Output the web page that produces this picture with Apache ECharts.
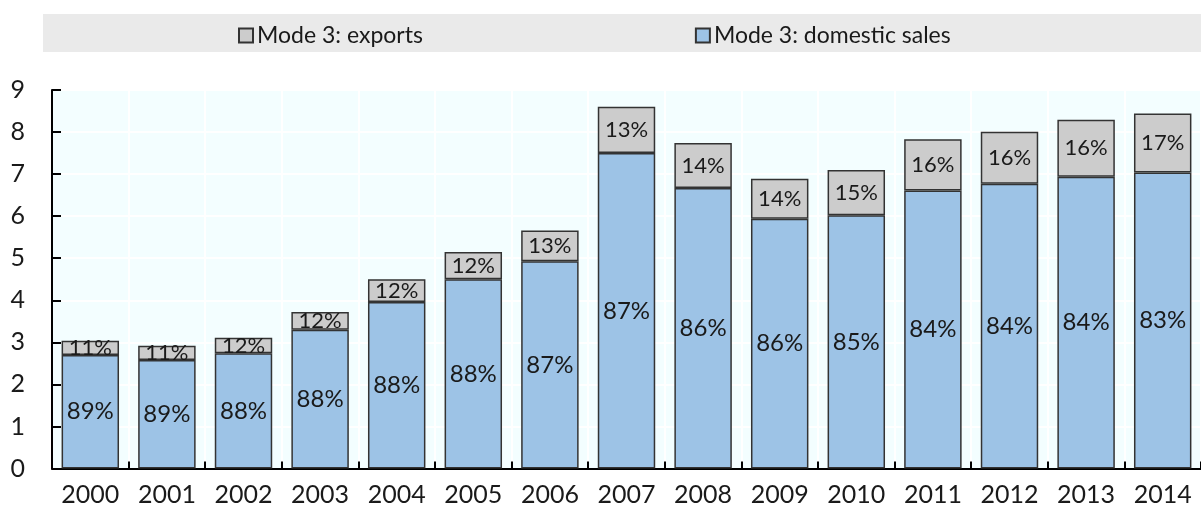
<!DOCTYPE html>
<html>
<head>
<meta charset="utf-8">
<script src="https://cdn.jsdelivr.net/npm/echarts@6/dist/echarts.min.js"></script>
<style>
html,body{margin:0;padding:0;background:#fff;}
#chart{width:1201px;height:509px;}
</style>
</head>
<body>
<div id="chart"></div>
<script>
const categories = ['2000','2001','2002','2003','2004','2005','2006','2007','2008','2009','2010','2011','2012','2013','2014'];
const domesticValues = [2.70, 2.58, 2.74, 3.30, 3.96, 4.50, 4.93, 7.50, 6.67, 5.94, 6.02, 6.61, 6.77, 6.94, 7.04];
const exportValues   = [0.34, 0.34, 0.37, 0.42, 0.54, 0.65, 0.73, 1.10, 1.07, 0.95, 1.08, 1.22, 1.24, 1.35, 1.40];
const domesticShares = ['89%','89%','88%','88%','88%','88%','87%','87%','86%','86%','85%','84%','84%','84%','83%'];
const exportShares   = ['11%','11%','12%','12%','12%','12%','13%','13%','14%','14%','15%','16%','16%','16%','17%'];
const yTicks = [0,1,2,3,4,5,6,7,8,9];

const FONT = 'Lato';
const chart = echarts.init(document.getElementById('chart'));
chart.setOption({
  animation: false,
  textStyle: {fontFamily: FONT},
  graphic: [{
    type: 'rect', left: 43, top: 14, z: -10,
    shape: {width: 1158, height: 38},
    style: {fill: '#EAEAEA'}
  }],
  legend: {
    left: 233, top: 19,
    icon: 'rect',
    itemWidth: 14, itemHeight: 14, itemGap: 272,
    textStyle: {fontFamily: FONT, fontSize: 23, color: '#1a1a1a', padding: [0,0,0,-1]},
    data: ['Mode 3: exports', 'Mode 3: domestic sales']
  },
  grid: {
    left: 52, top: 90, bottom: 40.5, width: 1158,
    show: true, backgroundColor: '#F3FEFF', borderColor: '#A8B0B0', borderWidth: 1,
    containLabel: false
  },
  xAxis: {
    type: 'category', data: categories,
    axisLine: {lineStyle: {color: '#000', width: 2}},
    axisTick: {show: true, inside: true, length: 7, lineStyle: {color: '#000', width: 2}},
    axisLabel: {fontFamily: FONT, fontSize: 25, color: '#1a1a1a', margin: 14},
    splitLine: {show: true, interval: 0, lineStyle: {color: '#ffffff', width: 2}}
  },
  yAxis: {
    type: 'value', min: yTicks[0], max: yTicks[yTicks.length-1], interval: 1,
    axisLine: {show: true, lineStyle: {color: '#000', width: 2}},
    axisTick: {show: true, inside: true, length: 9, lineStyle: {color: '#000', width: 2}},
    axisLabel: {fontFamily: FONT, fontSize: 25, color: '#1a1a1a', margin: 27},
    splitLine: {show: true, lineStyle: {color: '#ffffff', width: 2}}
  },
  series: [
    {
      name: 'Mode 3: domestic sales', type: 'bar', stack: 'total',
      data: domesticValues, barCategoryGap: '25%',
      itemStyle: {color: '#9DC3E6', borderColor: '#333', borderWidth: 1.5},
      label: {show: true, position: 'inside', fontFamily: FONT, fontSize: 24, color: '#1a1a1a',
        formatter: p => domesticShares[p.dataIndex]}
    },
    {
      name: 'Mode 3: exports', type: 'bar', stack: 'total',
      data: exportValues, barCategoryGap: '25%',
      itemStyle: {color: '#CCCCCC', borderColor: '#333', borderWidth: 1.5},
      label: {show: true, position: 'inside', fontFamily: FONT, fontSize: 22, color: '#1a1a1a',
        formatter: p => exportShares[p.dataIndex]}
    }
  ]
});
</script>
</body>
</html>
